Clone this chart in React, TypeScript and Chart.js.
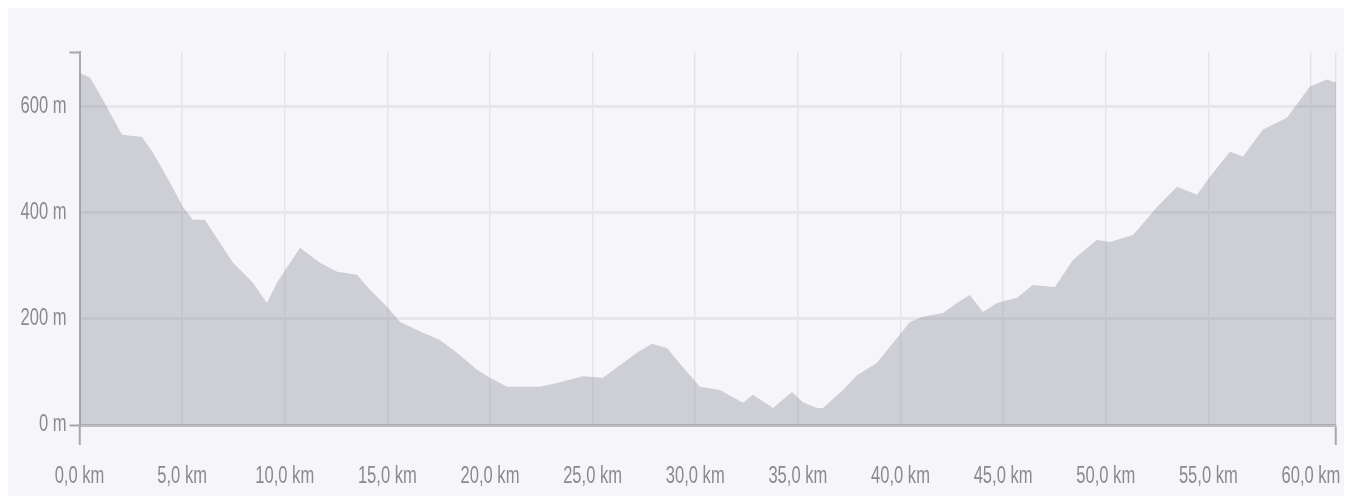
import React, { useEffect, useRef } from "react";
import { Chart, registerables } from "chart.js";

Chart.register(...registerables);

// distance along the route (km)
const distKm = [
  0, 0.51, 1.14, 2.07, 3.05, 3.58, 4.41, 5.04, 5.53, 6.11, 6.85, 7.48, 8.45, 9.13, 9.62,
  10.74, 11.72, 12.55, 13.52, 14.15, 14.98, 15.62, 16.73, 17.56, 18.39, 19.37, 20.0, 20.83,
  22.44, 23.27, 24.53, 25.51, 26.34, 27.16, 27.89, 28.62, 29.4, 30.23, 31.2, 32.33, 32.81,
  33.79, 34.71, 35.25, 35.93, 36.22, 37.2, 37.88, 38.85, 39.83, 40.46, 41.1, 42.07, 42.75,
  43.38, 44.02, 44.7, 45.68, 46.45, 47.53, 48.4, 49.57, 50.2, 51.33, 52.5, 53.47, 54.45,
  55.08, 56.05, 56.69, 57.66, 58.83, 59.95, 60.78, 61.07, 61.22,
];
// elevation (m)
const elevM = [
  664, 655, 613, 547, 543, 513, 457, 411, 387, 387, 343, 306, 268, 230, 268,
  334, 306, 289, 283, 255, 223, 194, 174, 160, 136, 104, 89, 72,
  72, 79, 92, 89, 113, 136, 153, 145, 109, 72, 66, 42, 57,
  32, 62, 43, 32, 32, 66, 94, 117, 164, 194, 204, 211, 230,
  245, 213, 230, 240, 264, 260, 311, 349, 345, 358, 411, 449, 434,
  468, 515, 506, 557, 579, 638, 651, 647, 647,
];
const xTicks = [0, 5, 10, 15, 20, 25, 30, 35, 40, 45, 50, 55, 60];
const yTicks = [0, 200, 400, 600];
const xMax = 61.22;
const yMax = 703;

const SQUEEZE = 0.72;

// draw tick labels with a horizontal squeeze (condensed look)
function condensedLabels(scale: any) {
  scale.drawLabels = function (chartArea: any) {
    const ctx = this.ctx;
    const items = this.getLabelItems(chartArea);
    for (const item of items) {
      const o = item.options;
      const [tx, ty] = o.translation;
      ctx.save();
      ctx.translate(tx, ty);
      ctx.scale(SQUEEZE, 1);
      ctx.font = item.font.string;
      ctx.fillStyle = o.color;
      ctx.textAlign = o.textAlign;
      ctx.textBaseline = o.textBaseline;
      const lines = Array.isArray(item.label) ? item.label : [item.label];
      lines.forEach((l: string, i: number) => {
        ctx.fillText(l, 0, item.textOffset + i * item.font.lineHeight);
      });
      ctx.restore();
    }
  };
}

export default function App() {
  const ref = useRef<HTMLCanvasElement | null>(null);
  useEffect(() => {
    if (!ref.current) return;
    const font = { family: "'Liberation Sans', Arial, sans-serif", size: 23 };
    const chart = new Chart(ref.current, {
      type: "line",
      data: {
        datasets: [
          {
            data: distKm.map((d, i) => ({ x: d, y: elevM[i] })),
            fill: "start",
            backgroundColor: "rgba(150,150,162,0.42)",
            borderColor: "rgba(0,0,0,0)",
            borderWidth: 0,
            pointRadius: 0,
            tension: 0,
          },
        ],
      },
      options: {
        animation: false,
        responsive: false,
        maintainAspectRatio: false,
        layout: { padding: { top: 44, left: 0, right: 8, bottom: 0 } },
        plugins: { legend: { display: false }, tooltip: { enabled: false } },
        scales: {
          x: {
            type: "linear",
            min: 0,
            max: xMax,
            afterBuildTicks: (s: any) => {
              s.ticks = [...xTicks, xMax].map((v) => ({ value: v }));
            },
            afterFit: (s: any) => {
              s.height = 71;
              s.paddingLeft = 0;
              s.paddingRight = 0;
              condensedLabels(s);
            },
            ticks: {
              autoSkip: false,
              maxRotation: 0,
              padding: 18,
              color: "#8a8a8a",
              font,
              callback: (v: any) => (v === xMax ? "" : Number(v).toFixed(1).replace(".", ",") + " km"),
            },
            grid: {
              color: "#e3e3ea",
              lineWidth: 1.5,
              tickLength: 20,
              tickWidth: 2,
              tickColor: (c: any) => (c.index === 0 || c.index === xTicks.length ? "#a6a6aa" : "rgba(0,0,0,0)"),
            },
            border: { color: "#bcbcc1", width: 3 },
          },
          y: {
            min: 0,
            max: yMax,
            afterBuildTicks: (s: any) => {
              s.ticks = [...yTicks, yMax].map((v) => ({ value: v }));
            },
            afterFit: (s: any) => {
              s.width = 71.5;
              s.paddingTop = 0;
              s.paddingBottom = 0;
              condensedLabels(s);
            },
            ticks: {
              padding: 3,
              color: "#8a8a8a",
              font,
              callback: (v: any) => (v === yMax ? "" : v + " m"),
            },
            grid: {
              color: (c: any) => (c.index === 0 || c.index === yTicks.length ? "rgba(0,0,0,0)" : "#e6e6ec"),
              lineWidth: 3,
              tickLength: 10,
              tickWidth: 2,
              tickColor: (c: any) => (c.index === 0 || c.index === yTicks.length ? "#a6a6aa" : "rgba(0,0,0,0)"),
            },
            border: { color: "#aaaaae", width: 2 },
          },
        },
      },
    });
    return () => chart.destroy();
  }, []);
  return (
    <div style={{ width: 1336, height: 488, background: "#f6f6fa" }}>
      <canvas ref={ref} width={1336} height={488} style={{ display: "block" }} />
    </div>
  );
}
